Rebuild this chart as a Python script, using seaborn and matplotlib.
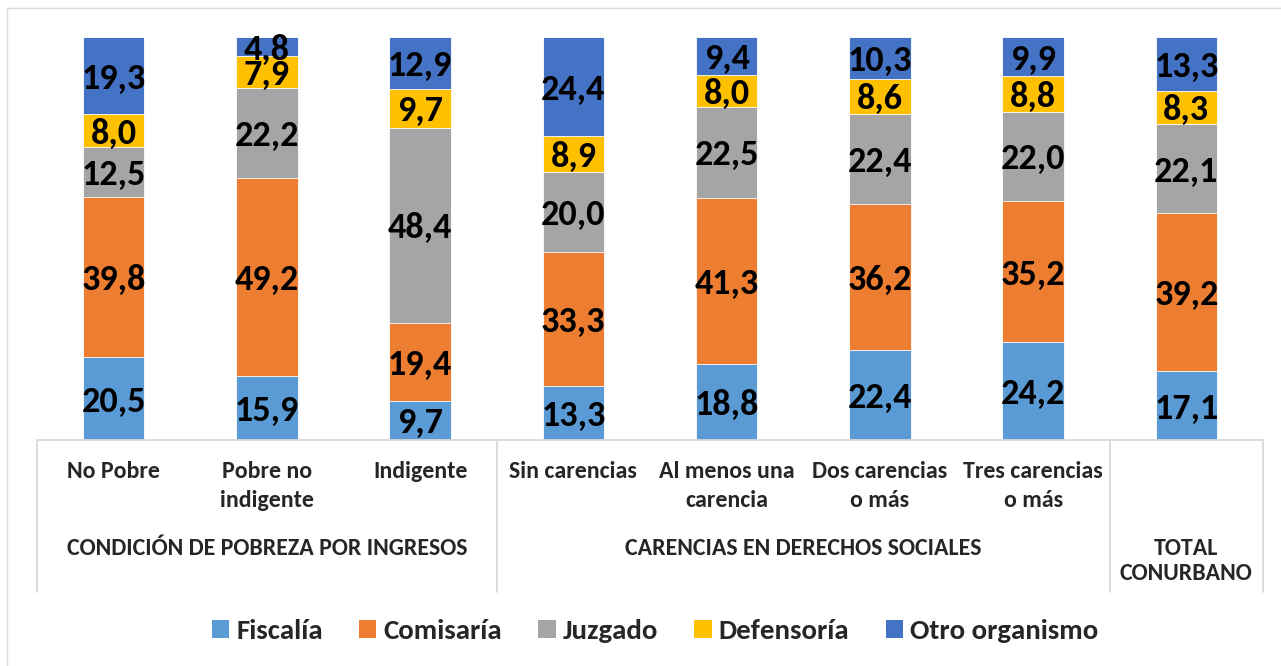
import matplotlib
matplotlib.use("Agg")
import matplotlib.pyplot as plt
from matplotlib.lines import Line2D
from matplotlib.patches import Rectangle, Patch
import matplotlib.transforms as mtransforms
import numpy as np
import pandas as pd
import seaborn as sns

# Categories (first level) and their groups
categories = ["No Pobre", "Pobre no\nindigente", "Indigente", "Sin carencias",
              "Al menos una\ncarencia", "Dos carencias\no más", "Tres carencias\no más",
              "TOTAL\nCONURBANO"]
groups = ["CONDICIÓN DE POBREZA POR INGRESOS", "CARENCIAS EN DERECHOS SOCIALES"]
group_spans = [(0, 2), (3, 6)]

series_names = ["Fiscalía", "Comisaría", "Juzgado", "Defensoría", "Otro organismo"]
fiscalia = [20.5, 15.9, 9.7, 13.3, 18.8, 22.4, 24.2, 17.1]
comisaria = [39.8, 49.2, 19.4, 33.3, 41.3, 36.2, 35.2, 39.2]
juzgado = [12.5, 22.2, 48.4, 20.0, 22.5, 22.4, 22.0, 22.1]
defensoria = [8.0, 7.9, 9.7, 8.9, 8.0, 8.6, 8.8, 8.3]
otro = [19.3, 4.8, 12.9, 24.4, 9.4, 10.3, 9.9, 13.3]

colors = ["#5B9BD5", "#ED7D31", "#A5A5A5", "#FFC000", "#4472C4"]

sns.set_style("white")
FONT = ["Carlito", "DejaVu Sans"]
plt.rcParams["font.family"] = FONT

W, H = 1281, 666
fig = plt.figure(figsize=(W / 100, H / 100), dpi=100)


def fx(x):
    return x / W


def fy(y):
    return 1 - y / H


# Outer chart frame
fig.add_artist(Rectangle((fx(7), fy(700)), fx(1300 - 7), fy(8) - fy(700),
                         transform=fig.transFigure, fill=False,
                         edgecolor="#D9D9D9", linewidth=1.0))

ax = fig.add_axes([fx(37), fy(440), fx(1263) - fx(37), fy(37) - fy(440)])

keys = [c.replace("\n", " ") for c in categories]
values = np.array([fiscalia, comisaria, juzgado, defensoria, otro])
cum = np.cumsum(values, axis=0)

# Stacked bars: draw cumulative totals from the top layer down
for i in range(len(series_names) - 1, -1, -1):
    df = pd.DataFrame({"cat": keys, "val": cum[i]})
    sns.barplot(data=df, x="cat", y="val", order=keys, color=colors[i],
                saturation=1, width=0.4, edgecolor="#FFFFFF", linewidth=0.6,
                ax=ax, zorder=2)

# Value labels centred in each segment
for i in range(len(series_names)):
    for j in range(len(keys)):
        v = values[i, j]
        yc = cum[i, j] - v / 2
        ax.text(j, yc, f"{v:.1f}".replace(".", ","), ha="center",
                va="center_baseline", fontsize=26, fontweight="bold",
                color="black", zorder=5)

ax.set_xlim(-0.5, len(keys) - 0.5)
ax.set_ylim(0, 100)
ax.set_xlabel("")
ax.set_ylabel("")
ax.set_xticks([])
ax.set_yticks([])
for s in ["top", "right", "left"]:
    ax.spines[s].set_visible(False)
ax.spines["bottom"].set_color("#D9D9D9")
ax.spines["bottom"].set_linewidth(1.3)

# Multi-level category axis
LAB = 17.2
blend = mtransforms.blended_transform_factory(ax.transData, fig.transFigure)
for j, lab in enumerate(categories[:-1]):
    for k, line in enumerate(lab.split("\n")):
        ax.text(j, fy(478 + 29 * k), line, transform=blend, ha="center",
                va="baseline", fontsize=LAB, fontweight="bold", clip_on=False)

for g, (a, b) in zip(groups, group_spans):
    ax.text((a + b) / 2, fy(555), g, transform=blend, ha="center",
            va="baseline", fontsize=LAB, fontweight="bold", clip_on=False)

for k, line in enumerate(categories[-1].split("\n")):
    ax.text(len(keys) - 1, fy(555 + 25 * k), line, transform=blend,
            ha="center", va="baseline", fontsize=LAB, fontweight="bold",
            clip_on=False)

for xb in [-0.5, 2.5, 6.5, 7.5]:
    ax.add_line(Line2D([xb, xb], [fy(441), fy(592)], transform=blend,
                       color="#D9D9D9", linewidth=1.3, clip_on=False))

# Legend
handles = [Patch(facecolor=c, edgecolor="none") for c in colors]
fig.legend(handles, series_names, loc="center", ncol=5,
           bbox_to_anchor=(fx(655), fy(631)), frameon=False,
           prop={"family": FONT, "weight": "bold", "size": 20.8},
           handlelength=0.6, handleheight=0.6, handletextpad=0.25,
           columnspacing=1.25, borderaxespad=0)

fig.savefig("out.png", dpi=100)
